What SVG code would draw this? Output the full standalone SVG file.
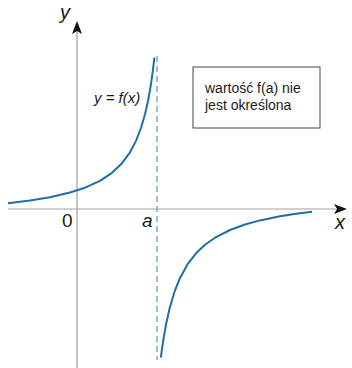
<svg xmlns="http://www.w3.org/2000/svg" width="352" height="368" viewBox="0 0 352 368">
<defs>
<style>
.axis{stroke:#a0a0a0;stroke-width:1.2;fill:none}
.curve{stroke:#1f6fa3;stroke-width:2;fill:none;stroke-linejoin:round}
.asym{stroke:#7fb2d0;stroke-width:1.6;stroke-dasharray:6,4;fill:none}
.lbl{font-family:"Liberation Sans",Arial,sans-serif;fill:#1a1a1a}
.it{font-style:italic}
</style>
</defs>
<rect width="352" height="368" fill="#fff"/>
<g id="axes">
<line class="axis" x1="77" y1="30" x2="77" y2="368"/>
<line class="axis" x1="8" y1="209" x2="336" y2="209"/>
<path d="M77,21 L82,34 L77,31 L72,34 Z" fill="#111"/>
<path d="M347,209 L334,204 L337,209 L334,214 Z" fill="#111"/>
<text class="lbl it" x="60" y="19" font-size="20">y</text>
<text class="lbl it" x="335" y="229" font-size="20">x</text>
<text class="lbl" x="62" y="227" font-size="19">0</text>
<text class="lbl it" x="142" y="227" font-size="19">a</text>
</g>
<g id="asymptote">
<line class="asym" x1="157" y1="56" x2="157" y2="360"/>
</g>
<g id="curves">
<polyline class="curve" points="8,203.2 30,200.5 50,197.2 70,192.5 85,187.7 100,180.8 112,172.8 122,163.2 130,152.3 136,140.9 141,128 145,114.3 148,101 150,90.1 152,77 154,61.1 154.4,57.5"/>
<polyline class="curve" points="160.8,357.7 163,341.8 166,324.5 170,306.8 175,290.3 180,278 188,263.6 196,253.3 205,244.8 215,237.7 230,230 245,224.5 260,220.4 280,216.3 296,213.7 312,211.7"/>
</g>
<g id="label-f">
<text class="lbl it" x="94" y="103" font-size="15">y = f(x)</text>
</g>
<g id="note">
<rect x="193" y="67" width="127" height="61" fill="#fff" stroke="#444" stroke-width="1"/>
<text class="lbl" x="205" y="93" font-size="14">wartość f(a) nie</text>
<text class="lbl" x="205" y="110" font-size="14">jest określona</text>
</g>
</svg>
